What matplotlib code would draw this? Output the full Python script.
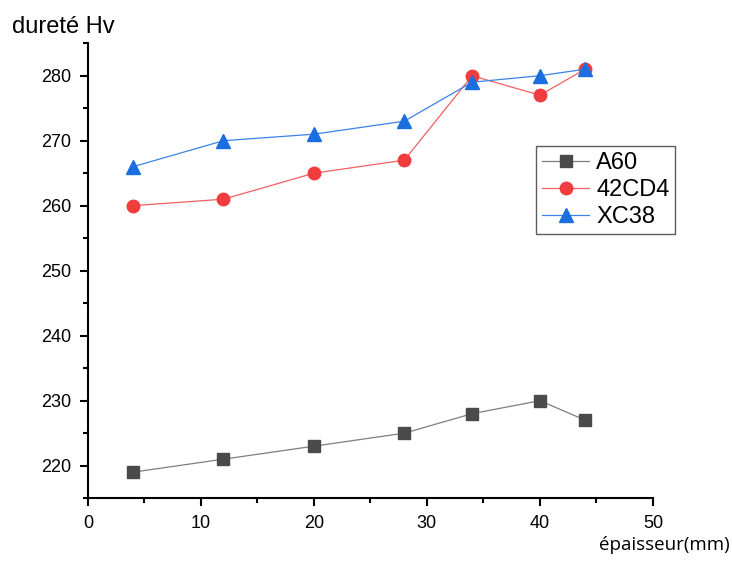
import matplotlib
matplotlib.use("Agg")
import matplotlib.pyplot as plt
from matplotlib.ticker import MultipleLocator

plt.rcParams['font.family'] = ['Liberation Sans', 'DejaVu Sans']

# épaisseur (mm) and hardness values per steel grade
thickness = [4, 12, 20, 28, 34, 40, 44]
a60 = [219, 221, 223, 225, 228, 230, 227]
cd42 = [260, 261, 265, 267, 280, 277, 281]
xc38 = [266, 270, 271, 273, 279, 280, 281]

fig = plt.figure(figsize=(7.32, 5.61), dpi=100)
ax = fig.add_axes([0.120, 0.112, 0.772, 0.811])

ax.plot(thickness, a60, color='#7f7f7f', lw=0.9, marker='s', ms=8.5,
        mfc='#4a4a4a', mec='#4a4a4a', label='A60')
ax.plot(thickness, cd42, color='#f06060', lw=0.9, marker='o', ms=9,
        mfc='#f03c3c', mec='#f03c3c', label='42CD4')
ax.plot(thickness, xc38, color='#3a82e8', lw=0.9, marker='^', ms=10,
        mfc='#1a6ee0', mec='#1a6ee0', label='XC38')

ax.set_xlim(0, 50)
ax.set_ylim(215, 285)
ax.xaxis.set_major_locator(MultipleLocator(10))
ax.xaxis.set_minor_locator(MultipleLocator(5))
ax.yaxis.set_major_locator(MultipleLocator(10))
ax.yaxis.set_minor_locator(MultipleLocator(5))

for side in ('top', 'right'):
    ax.spines[side].set_visible(False)
for side in ('left', 'bottom'):
    ax.spines[side].set_linewidth(1.5)

ax.tick_params(which='major', direction='out', length=6, width=1.5, labelsize=13, pad=6)
ax.tick_params(which='minor', direction='out', length=3.5, width=1.5)

fig.text(0.016, 0.952, 'dureté Hv', fontsize=17, ha='left', va='center')
fig.text(0.997, 0.028, 'épaisseur(mm)', fontsize=13.5, ha='right', va='center',
         family=['Open Sans', 'DejaVu Sans'])

leg = ax.legend(loc='upper left', bbox_to_anchor=(536 / 732, 1 - 146 / 561),
                bbox_transform=fig.transFigure, fontsize=17, frameon=True,
                fancybox=False, edgecolor='#333333', handlelength=2.0,
                handletextpad=0.3, borderpad=0.25, labelspacing=0.22,
                borderaxespad=0)
leg.get_frame().set_linewidth(1.0)

fig.savefig('out.png', dpi=100)
